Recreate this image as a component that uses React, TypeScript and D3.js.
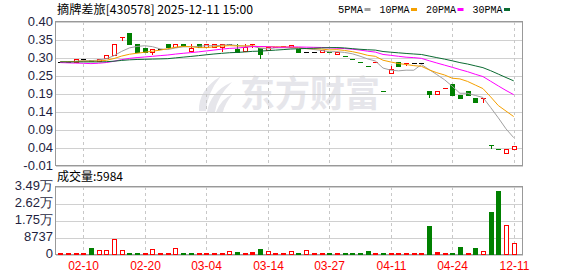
import React from 'react';
import * as d3 from 'd3';

// ---- data ----
const opens = [0.285,0.285,0.286,0.293,0.290,0.288,0.295,0.306,0.355,0.367,0.337,0.324,0.314,0.323,0.337,0.327,0.337,0.315,0.337,0.326,0.327,0.326,0.336,0.321,0.317,0.336,0.325,0.319,0.328,0.330,0.326,0.321,0.313,0.313,0.313,0.3125,0.307,0.303,0.2935,0.284,0.2735,0.284,0.202,0.254,0.285,0.283,0.283,0.283,0.202,0.193,0.210,0.222,0.1907,0.202,0.183,0.181,0.048,0.0356,0.026,0.0375];
const highs = [0.285,0.285,0.293,0.293,0.290,0.293,0.304,0.336,0.355,0.367,0.337,0.324,0.323,0.323,0.337,0.336,0.337,0.337,0.337,0.336,0.336,0.336,0.336,0.336,0.337,0.336,0.325,0.326,0.328,0.330,0.332,0.321,0.313,0.313,0.318,0.3125,0.3135,0.303,0.2935,0.284,0.2735,0.284,0.202,0.274,0.285,0.283,0.283,0.283,0.202,0.202,0.210,0.222,0.1907,0.202,0.183,0.181,0.048,0.0356,0.0356,0.046];
const lows = [0.285,0.285,0.286,0.293,0.287,0.288,0.295,0.306,0.346,0.336,0.314,0.314,0.307,0.323,0.327,0.327,0.330,0.315,0.328,0.326,0.327,0.315,0.336,0.3135,0.317,0.328,0.295,0.319,0.328,0.330,0.326,0.313,0.313,0.313,0.313,0.3125,0.307,0.303,0.2935,0.284,0.2735,0.284,0.202,0.254,0.274,0.276,0.283,0.283,0.184,0.193,0.210,0.1907,0.183,0.192,0.1716,0.1716,0.0385,0.0356,0.026,0.0375];
const closes = [0.285,0.285,0.293,0.293,0.287,0.293,0.304,0.336,0.355,0.336,0.314,0.314,0.323,0.323,0.327,0.336,0.330,0.325,0.328,0.336,0.336,0.336,0.336,0.3135,0.328,0.336,0.307,0.326,0.328,0.330,0.332,0.313,0.313,0.313,0.318,0.3125,0.3135,0.303,0.2935,0.284,0.2735,0.284,0.202,0.264,0.274,0.283,0.283,0.283,0.193,0.202,0.210,0.1907,0.183,0.192,0.1716,0.181,0.048,0.0356,0.0356,0.046];
const volumes = [870,400,400,870,3340,2160,2160,7810,2160,400,400,400,2670,400,400,3190,400,400,400,400,400,870,1640,1290,870,1290,2830,1800,400,400,1800,930,2140,400,400,400,400,400,770,400,1800,400,400,770,400,400,400,400,14650,1130,400,400,3850,400,3340,1640,21840,32640,15000,5984];
// closes before the visible window (implied by the moving-average lines at the left edge)
const priorCloses = [0.29,0.29,0.29,0.29,0.29,0.29,0.29,0.29,0.285,0.285,0.30,0.305,0.305,0.307,0.27,0.265,0.265,0.26,0.265,0.268,0.28,0.285,0.285,0.29,0.285,0.285,0.285,0.285,0.285];

const priceTickLabels = ['0.40','0.35','0.30','0.25','0.19','0.14','0.09','0.04','-0.01'];
const priceMin = -0.01;
const priceMax = 0.40;
const volMax = 34948;
const volTickLabels = ['3.49万','2.62万','1.75万','8737','0'];
const dateTickIdx = [3,11,19,27,35,43,51,59];
const dateTickLabels = ['02-10','02-20','03-04','03-14','03-27','04-11','04-24','12-11'];
const maPeriods = [5,10,20,30];
const maLabels = ['5PMA','10PMA','20PMA','30PMA'];
const maColors = ['#a0a0a0','#f5a000','#ff00ff','#0b6b32'];
const title = '摘牌差旅[430578] 2025-12-11 15:00';
const volTitle = '成交量:5984';

const RED = '#ff0000';
const GREEN = '#008000';

export default function App() {
  const W = 578, H = 276;
  const left = 55.5, right = 522.5;
  const pTop = 21.5, pBot = 165.5, vTop = 186.5, vBot = 254.5;
  const n = closes.length;
  const x = d3.scaleLinear().domain([0, n - 1]).range([60.2, 513.7]);
  const y = d3.scaleLinear().domain([priceMin, priceMax]).range([pBot, pTop]);
  const yv = d3.scaleLinear().domain([0, volMax]).range([vBot, vTop]);
  const cx = (i: number) => Math.round(x(i));

  const all = priorCloses.concat(closes);
  const off = priorCloses.length;
  const maSeries = maPeriods.map(p => closes.map((_, i) => d3.mean(all.slice(off + i - p + 1, off + i + 1)) as number));
  const line = d3.line<number>().x((_, i) => x(i)).y(v => y(v));

  const prevClose = (i: number) => (i === 0 ? priorCloses[priorCloses.length - 1] : closes[i - 1]);
  const dir = (i: number) => {
    const o = opens[i], c = closes[i];
    if (c > o) return 1;
    if (c < o) return -1;
    const pc = prevClose(i);
    return c > pc ? 1 : c < pc ? -1 : 0;
  };

  const priceTicks = d3.range(priceTickLabels.length).map(k => priceMax - k * (priceMax - priceMin) / (priceTickLabels.length - 1));
  const volTicks = d3.range(volTickLabels.length).map(k => volMax * (volTickLabels.length - 1 - k) / (volTickLabels.length - 1));

  const labelFont = '"Liberation Sans", Arial, sans-serif';
  const axisColor = '#1f1f3f';

  // legend layout
  let lx = 338;
  const legend = maLabels.map((lab, k) => {
    const w = 5 * lab.length + 5;
    const item = { lab, tx: lx, w, sx: lx + w + 1.5, color: maColors[k] };
    lx = lx + w + 1.5 + 6 + 9;
    return item;
  });

  return (
    <svg width={W} height={H} style={{ position: 'absolute', left: 0, top: 0, background: '#fff' }}>
      <rect x={0} y={0} width={W} height={H} fill="#fff" />
      {/* title */}
      <text x={57} y={13.5} fontSize={12} fontFamily='"Noto Sans CJK SC", sans-serif' fill="#000" textLength={196} lengthAdjust="spacingAndGlyphs">{title}</text>
      {/* legend */}
      {legend.map(it => (
        <g key={it.lab}>
          <text x={it.tx} y={12.5} fontSize={11} fontFamily='"Liberation Mono", monospace' fill="#000" textLength={it.w} lengthAdjust="spacingAndGlyphs">{it.lab}</text>
          <rect x={it.sx} y={8} width={6} height={3} fill={it.color} />
        </g>
      ))}

      {/* watermark */}
      <g fill="#e6e6eb">
        <path d="M199 111 Q198 90 221 76 Q207 93 206 111 Z" />
        <path d="M207 112 Q210 92 232 82 Q217 97 215 112 Z" />
        <path d="M216 112 Q221 99 233 94 Q225 103 223 112 Z" />
        <text x={240} y={107} fontSize={36} fontWeight="bold" fontFamily='"Noto Sans CJK SC", sans-serif' textLength={140} lengthAdjust="spacingAndGlyphs">东方财富</text>
      </g>

      {/* price grid */}
      <g shapeRendering="crispEdges">
        {priceTicks.map((v, k) => (
          <line key={'pg' + k} x1={left} x2={right} y1={Math.round(y(v)) + 0.5} y2={Math.round(y(v)) + 0.5} stroke="#d0d0d0" />
        ))}
        {volTicks.map((v, k) => (
          <line key={'vg' + k} x1={left} x2={right} y1={Math.round(yv(v)) + 0.5} y2={Math.round(yv(v)) + 0.5} stroke="#d0d0d0" />
        ))}
        {dateTickIdx.map(i => (
          <g key={'dg' + i}>
            <line x1={cx(i) + 0.5} x2={cx(i) + 0.5} y1={pTop} y2={pBot} stroke="#c8c8c8" strokeDasharray="3,3" />
            <line x1={cx(i) + 0.5} x2={cx(i) + 0.5} y1={vTop} y2={vBot} stroke="#c8c8c8" strokeDasharray="3,3" />
          </g>
        ))}
        <rect x={left} y={pTop} width={right - left} height={pBot - pTop} fill="none" stroke="#999" />
        <rect x={left} y={vTop} width={right - left} height={vBot - vTop} fill="none" stroke="#999" />
      </g>

      {/* y labels */}
      {priceTicks.map((v, k) => (
        <text key={'pl' + k} x={53} y={y(v)} dy="0.36em" textAnchor="end" fontSize={13} fontFamily={labelFont} fill={axisColor}>{priceTickLabels[k]}</text>
      ))}
      {volTicks.map((v, k) => (
        <text key={'vl' + k} x={53} y={yv(v) - 1} dy="0.36em" textAnchor="end" fontSize={13} fontFamily={labelFont} fill={axisColor}>{volTickLabels[k]}</text>
      ))}
      <text x={57} y={181} fontSize={12} fontFamily='"Noto Sans CJK SC", sans-serif' fill="#000">{volTitle}</text>

      {/* x labels */}
      {dateTickIdx.map((i, k) => (
        <text key={'xl' + i} x={cx(i) + 0.5} y={270} textAnchor="middle" fontSize={12} fontFamily={labelFont} fill={RED}>{dateTickLabels[k]}</text>
      ))}

      {/* candles */}
      <g shapeRendering="crispEdges">
        {closes.map((c, i) => {
          const o = opens[i];
          const d = dir(i);
          const col = d > 0 ? RED : d < 0 ? GREEN : '#000';
          const X = cx(i);
          const yTop = Math.round(y(Math.max(o, c)));
          const yBotB = Math.round(y(Math.min(o, c)));
          const wick = (
            <line x1={X + 0.5} x2={X + 0.5} y1={Math.round(y(highs[i]))} y2={Math.round(y(lows[i])) + 1} stroke={col} />
          );
          if (c === o || yBotB - yTop < 1) {
            return (
              <g key={'c' + i}>
                {wick}
                <line x1={X - 2} x2={X + 3} y1={yTop + 0.5} y2={yTop + 0.5} stroke={col} />
              </g>
            );
          }
          if (c > o) {
            return (
              <g key={'c' + i}>
                {wick}
                <rect x={X - 1.5} y={yTop + 0.5} width={4} height={yBotB - yTop} fill="#fff" stroke={col} />
              </g>
            );
          }
          return (
            <g key={'c' + i}>
              {wick}
              <rect x={X - 2} y={yTop} width={5} height={yBotB - yTop + 1} fill={col} />
            </g>
          );
        })}
      </g>

      {/* moving averages */}
      {maSeries.map((s, k) => (
        <path key={'ma' + k} d={line(s) || ''} fill="none" stroke={maColors[k]} strokeWidth={1} />
      ))}

      {/* volume */}
      <g shapeRendering="crispEdges">
        {volumes.map((v, i) => {
          const up = closes[i] >= prevClose(i);
          const X = cx(i);
          const top = Math.min(Math.round(yv(v)), vBot - 1.5);
          const h = vBot - top;
          if (up && h > 3) {
            return <rect key={'v' + i} x={X - 1.5} y={top + 0.5} width={4} height={h - 1} fill="#fff" stroke={RED} />;
          }
          return <rect key={'v' + i} x={X - 2} y={top} width={5} height={h} fill={up ? RED : GREEN} />;
        })}
      </g>
    </svg>
  );
}
